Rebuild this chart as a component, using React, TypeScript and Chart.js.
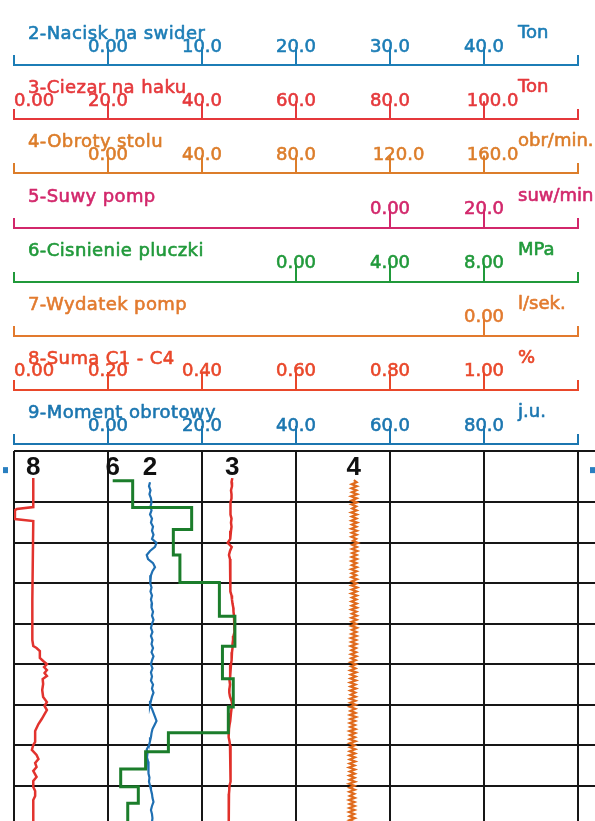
import React, { useEffect, useRef } from 'react';
import { Chart, registerables } from 'chart.js';

Chart.register(...registerables);

// ---------- depth axis (m, grid every 1 m) ----------
const DEPTH_TOP = 0.733;
const DEPTH_BOTTOM = 9.871;
const DEPTH_GRID = [2, 3, 4, 5, 6, 7, 8, 9];

// ---------- header scales (top to bottom) ----------
const HEADER_TITLES = ['2-Nacisk na swider', '3-Ciezar na haku', '4-Obroty stolu', '5-Suwy pomp', '6-Cisnienie pluczki', '7-Wydatek pomp', '8-Suma C1 - C4', '9-Moment obrotowy'];
const HEADER_UNITS = ['Ton', 'Ton', 'obr/min.', 'suw/min', 'MPa', 'l/sek.', '%', 'j.u.'];
const HEADER_MIN = [-10, 0, -40, -80, -12, -5, 0, -20];
const HEADER_MAX = [50, 120, 200, 40, 12, 1, 1.2, 100];
const HEADER_STEP = [10, 20, 40, 20, 4, 1, 0.2, 20];
const HEADER_TICKS = [
  [0, 10, 20, 30, 40],
  [0, 20, 40, 60, 80, 100],
  [0, 40, 80, 120, 160],
  [0, 20],
  [0, 4, 8],
  [0],
  [0, 0.2, 0.4, 0.6, 0.8, 1.0],
  [0, 20, 40, 60, 80],
];
const HEADER_IDS = ['xNacisk', 'xCiezar', 'xObroty', 'xSuwy', 'xCisnienie', 'xWydatek', 'xSuma', 'xMoment'];
const HEADER_COLORS = ['#1c7db6', '#e5383b', '#dc7d2a', '#d2276b', '#20993a', '#e27a2e', '#e9472a', '#1b76b0'];

// ---------- traces ----------
const LOG_DEPTH = [
  1.4, 1.5, 1.6, 1.7, 1.8, 1.9,
  2, 2.1, 2.2, 2.3, 2.4, 2.5, 2.6, 2.7, 2.8, 2.9,
  3, 3.1, 3.2, 3.3, 3.4, 3.5, 3.6, 3.7, 3.8, 3.9,
  4, 4.1, 4.2, 4.3, 4.4, 4.5, 4.6, 4.7, 4.8, 4.9,
  5, 5.1, 5.2, 5.3, 5.4, 5.5, 5.6, 5.7, 5.8, 5.9,
  6, 6.1, 6.2, 6.3, 6.4, 6.5, 6.6, 6.7, 6.8, 6.9,
  7, 7.1, 7.2, 7.3, 7.4, 7.5, 7.6, 7.7, 7.8, 7.9,
  8, 8.1, 8.2, 8.3, 8.4, 8.5, 8.6, 8.7, 8.8, 8.9,
  9, 9.1, 9.2, 9.3, 9.4, 9.5, 9.6, 9.7, 9.8, 9.9,
];
// 2 - Nacisk na swider [Ton]
const NACISK = [
  null, 4.47, 4.36, 4.52, 4.41, 4.57,
  4.63, 4.52, 4.63, 4.47, 4.68, 4.57, 4.79, 4.68, 4.84, 4.68,
  5.16, 5.0, 4.47, 4.12, 4.26, 4.79, 5.0, 4.73, 4.57, 4.52,
  4.47, 4.63, 4.52, 4.68, 4.57, 4.68, 4.63, 4.79, 4.68, 4.84,
  4.68, 4.57, 4.73, 4.57, 4.73, 4.63, 4.79, 4.63, 4.84, 4.68,
  4.57, 4.73, 4.57, 4.68, 4.57, 4.79, 4.68, 4.84, 4.68, 4.57,
  4.47, 4.68, 4.84, 5.0, 5.16, 4.95, 4.73, 4.63, 4.57, 4.47,
  4.36, 4.12, 4.2, 4.15, 4.26, 4.31, 4.26, 4.36, 4.41, 4.36,
  4.47, 4.57, 4.68, 4.73, 4.84, 4.68, 4.57, 4.68, 4.73, 4.68,
];
// 3 - Ciezar na haku [Ton]
const CIEZAR = [
  46.45, 46.28, 46.38, 46.17, 46.28, 46.28,
  46.06, 45.96, 46.06, 46.17, 46.28, 46.17, 46.28, 46.17, 46.06, 45.96,
  45.47, 46.32, 45.96, 45.74, 45.96, 46.06, 45.96, 46.06, 45.96, 46.06,
  45.96, 46.06, 46.17, 46.28, 46.38, 46.49, 46.66, 46.7, 46.81, 46.91,
  47.02, 46.91, 46.81, 46.7, 46.6, 46.49, 46.49, 46.38, 46.32, 46.28,
  46.17, 46.06, 45.96, 45.96, 45.85, 45.96, 45.85, 45.81, 45.96, 46.28,
  46.45, 46.28, 46.17, 46.06, 45.96, 45.85, 45.74, 45.6, 45.74, 45.85,
  45.96, 46.06, 46.17, 46.17, 46.06, 46.17, 46.06, 46.06, 45.96, 45.96,
  45.85, 45.81, 45.74, 45.64, 45.6, 45.64, 45.74, 45.74, 45.74, 45.74,
];

// 4 - Obroty stolu [obr/min], fine sampling
const FINE_DEPTH = [
  1.45, 1.5, 1.55, 1.6, 1.65, 1.7, 1.75, 1.8, 1.85, 1.9,
  1.95, 2, 2.05, 2.1, 2.15, 2.2, 2.25, 2.3, 2.35, 2.4,
  2.45, 2.5, 2.55, 2.6, 2.65, 2.7, 2.75, 2.8, 2.85, 2.9,
  2.95, 3, 3.05, 3.1, 3.15, 3.2, 3.25, 3.3, 3.35, 3.4,
  3.45, 3.5, 3.55, 3.6, 3.65, 3.7, 3.75, 3.8, 3.85, 3.9,
  3.95, 4, 4.05, 4.1, 4.15, 4.2, 4.25, 4.3, 4.35, 4.4,
  4.45, 4.5, 4.55, 4.6, 4.65, 4.7, 4.75, 4.8, 4.85, 4.9,
  4.95, 5, 5.05, 5.1, 5.15, 5.2, 5.25, 5.3, 5.35, 5.4,
  5.45, 5.5, 5.55, 5.6, 5.65, 5.7, 5.75, 5.8, 5.85, 5.9,
  5.95, 6, 6.05, 6.1, 6.15, 6.2, 6.25, 6.3, 6.35, 6.4,
  6.45, 6.5, 6.55, 6.6, 6.65, 6.7, 6.75, 6.8, 6.85, 6.9,
  6.95, 7, 7.05, 7.1, 7.15, 7.2, 7.25, 7.3, 7.35, 7.4,
  7.45, 7.5, 7.55, 7.6, 7.65, 7.7, 7.75, 7.8, 7.85, 7.9,
  7.95, 8, 8.05, 8.1, 8.15, 8.2, 8.25, 8.3, 8.35, 8.4,
  8.45, 8.5, 8.55, 8.6, 8.65, 8.7, 8.75, 8.8, 8.85, 8.9,
  8.95, 9, 9.05, 9.1, 9.15, 9.2, 9.25, 9.3, 9.35, 9.4,
  9.45, 9.5, 9.55, 9.6, 9.65, 9.7, 9.75, 9.8, 9.85, 9.9,
];
const OBROTY = [
  104.6, 105.8, 103.7, 105.9, 103.6, 105.7, 103.8, 106.0, 103.5, 105.8,
  103.7, 105.9, 103.6, 105.6, 103.9, 105.8, 103.5, 105.9, 103.7, 105.7,
  103.6, 106.0, 103.8, 105.7, 103.5, 105.9, 103.7, 105.8, 103.6, 105.6,
  104.2, 106.3, 104.0, 105.9, 103.8, 106.1, 103.9, 105.8, 103.7, 105.9,
  103.6, 105.7, 103.8, 105.9, 103.5, 105.8, 103.7, 105.6, 103.6, 105.9,
  103.8, 105.7, 103.6, 106.0, 103.7, 105.8, 103.5, 105.9, 103.8, 105.7,
  103.6, 105.8, 103.7, 105.9, 103.5, 105.7, 103.8, 105.9, 103.6, 105.8,
  103.7, 105.6, 103.5, 105.9, 103.8, 105.7, 103.6, 105.8, 103.4, 105.6,
  103.5, 105.7, 103.3, 105.5, 103.6, 105.6, 103.4, 105.7, 103.5, 105.4,
  103.2, 105.5, 103.4, 105.3, 103.1, 105.6, 103.3, 105.4, 103.2, 105.5,
  103.0, 105.3, 103.2, 105.5, 103.1, 105.2, 103.3, 105.4, 103.0, 105.3,
  103.1, 105.4, 102.9, 105.2, 103.2, 105.3, 103.0, 105.5, 103.1, 105.2,
  102.9, 105.1, 103.1, 105.3, 102.8, 105.2, 103.0, 105.1, 102.9, 105.3,
  102.8, 105.0, 103.0, 105.2, 102.9, 105.1, 102.7, 105.0, 102.9, 105.2,
  102.8, 104.9, 102.6, 105.1, 102.9, 105.0, 102.7, 104.9, 102.8, 105.1,
  102.6, 104.9, 102.8, 105.0, 102.7, 104.8, 102.9, 105.0, 102.6, 104.9,
  102.8, 105.0, 102.7, 104.9, 102.6, 104.8, 102.8, 105.0, 102.7, 104.9,
];

// 6 - Cisnienie pluczki [MPa] (plotted on the wrapped back-up range 12-36), stepwise
const CIS_DEPTH = [1.467, 1.467, 2.123, 2.667, 3.302, 3.98, 4.813, 5.556, 6.359, 7.056, 7.69, 8.16, 8.587, 9.024, 9.434, 9.95];
const CISNIENIE = [16.2, 17.05, 19.56, 18.78, 19.06, 20.74, 21.4, 20.87, 21.33, 21.12, 18.57, 17.6, 16.54, 17.29, 16.84, 16.84];

// 8 - Suma C1 - C4 [%]
const SUMA_DEPTH = [1.4, 2.116, 2.165, 2.19, 2.412, 2.462, 4.413, 5.401, 5.549, 5.598, 5.672, 5.845, 5.919, 5.993, 6.067, 6.141, 6.215, 6.289, 6.363, 6.487, 6.635, 6.808, 6.931, 7.03, 7.129, 7.228, 7.351, 7.475, 7.573, 7.647, 7.919, 7.993, 8.116, 8.24, 8.339, 8.438, 8.536, 8.635, 8.783, 8.882, 9.03, 9.129, 9.252, 9.351, 9.95];
const SUMA = [0.041, 0.041, 0.006, 0.002, 0.002, 0.041, 0.039, 0.039, 0.041, 0.048, 0.055, 0.055, 0.062, 0.07, 0.064, 0.07, 0.065, 0.07, 0.061, 0.062, 0.06, 0.062, 0.07, 0.065, 0.07, 0.065, 0.059, 0.052, 0.048, 0.045, 0.045, 0.041, 0.038, 0.048, 0.052, 0.045, 0.048, 0.041, 0.048, 0.041, 0.041, 0.045, 0.045, 0.041, 0.041];

const GRID_COLOR = '#161616';
const HEADER_H = 54.14;
const TEXT_FONT = '"DejaVu Sans"';

const near = (a: number, b: number) => Math.abs(a - b) < 1e-6;
const fmt = (v: number) => (Math.abs(v) < 10 ? v.toFixed(2) : v.toFixed(1));

function headerScale(i: number): any {
  const color = HEADER_COLORS[i];
  const labelled = HEADER_TICKS[i];
  const min = HEADER_MIN[i];
  const max = HEADER_MAX[i];
  const hasLabel = (v: number) => labelled.some((t) => near(t, v));
  const atEdge = (v: number) => near(v, min) || near(v, max);
  return {
    type: 'linear',
    position: 'top',
    weight: 8 - i,
    min,
    max,
    afterFit: (s: any) => {
      s.height = HEADER_H;
    },
    grid: {
      display: true,
      drawOnChartArea: false,
      drawTicks: true,
      tickLength: 18,
      lineWidth: 2,
      color: (c: any) => (c.tick && hasLabel(c.tick.value) && !atEdge(c.tick.value) ? color : 'rgba(0,0,0,0)'),
    },
    border: { display: true, color, width: 2 },
    ticks: {
      stepSize: HEADER_STEP[i],
      autoSkip: false,
      maxRotation: 0,
      minRotation: 0,
      padding: -10.6,
      align: labelled.some((t) => near(t, min)) ? 'inner' : 'center',
      color,
      textStrokeColor: color,
      textStrokeWidth: 0.6,
      font: { family: 'DejaVu Sans', size: 18 },
      callback: (v: any) => {
        const n = Number(v);
        if (!hasLabel(n)) return '';
        const s = fmt(n);
        return s.length >= 5 ? '   ' + s : s;
      },
    },
  };
}

const decorPlugin = {
  id: 'logDecor',
  afterDraw(chart: any) {
    const { ctx, chartArea } = chart;
    ctx.save();
    HEADER_IDS.forEach((id, i) => {
      const s = chart.scales[id];
      const yLine = Math.round(s.bottom - 1) + 1;
      const color = HEADER_COLORS[i];
      ctx.strokeStyle = color;
      ctx.lineWidth = 2;
      ctx.beginPath();
      ctx.moveTo(Math.round(s.left), yLine);
      ctx.lineTo(Math.round(s.left), yLine - 10);
      ctx.moveTo(Math.round(s.right), yLine);
      ctx.lineTo(Math.round(s.right), yLine - 10);
      ctx.stroke();
      ctx.fillStyle = color;
      ctx.font = '18px ' + TEXT_FONT;
      ctx.textAlign = 'left';
      ctx.textBaseline = 'alphabetic';
      ctx.lineWidth = 0.6;
      ctx.lineJoin = 'round';
      (ctx as any).letterSpacing = '0.4px';
      ctx.strokeText(HEADER_TITLES[i], s.left + 14, yLine - 26);
      ctx.fillText(HEADER_TITLES[i], s.left + 14, yLine - 26);
      (ctx as any).letterSpacing = '0px';
      ctx.strokeText(HEADER_UNITS[i], s.right - 60, yLine - 27);
      ctx.fillText(HEADER_UNITS[i], s.right - 60, yLine - 27);
    });
    // track numbers above each curve
    ctx.fillStyle = '#111';
    ctx.font = 'bold 26px "Liberation Sans"';
    ctx.textAlign = 'center';
    ctx.textBaseline = 'alphabetic';
    chart.data.datasets.forEach((ds: any, i: number) => {
      const meta = chart.getDatasetMeta(i);
      const p = meta.data.find((el: any) => !el.skip);
      if (p) ctx.fillText(ds.track, p.x, chartArea.top + 24);
    });
    // depth markers at both edges
    ctx.fillStyle = '#2a7fc0';
    ctx.fillRect(3, chartArea.top + 16, 5, 6);
    ctx.fillRect(590, chartArea.top + 16, 5, 6);
    ctx.restore();
  },
};

export default function App() {
  const ref = useRef<HTMLCanvasElement>(null);
  useEffect(() => {
    document.body.style.margin = '0';
    const scales: any = {};
    HEADER_IDS.forEach((id, i) => {
      scales[id] = headerScale(i);
    });
    scales.xCisWrap = { type: 'linear', display: false, position: 'top', min: 12, max: 36 };
    scales.xGrid = {
      type: 'linear',
      position: 'top',
      weight: 0,
      min: 0,
      max: 6,
      afterFit: (s: any) => {
        s.height = 7;
      },
      ticks: { display: false, stepSize: 1 },
      grid: { drawTicks: false, color: GRID_COLOR, lineWidth: 2 },
      border: { display: false },
    };
    scales.y = {
      type: 'linear',
      position: 'right',
      reverse: true,
      min: DEPTH_TOP,
      max: DEPTH_BOTTOM,
      afterBuildTicks: (s: any) => {
        s.ticks = [DEPTH_TOP, ...DEPTH_GRID].map((v) => ({ value: v }));
      },
      afterFit: (s: any) => {
        s.width = 17;
      },
      ticks: { display: false },
      grid: { color: GRID_COLOR, lineWidth: 2, drawTicks: true, tickLength: 17 },
      border: { display: false },
    };

    const line = (color: string, width: number) => ({
      showLine: true,
      borderColor: color,
      backgroundColor: color,
      borderWidth: width,
      pointRadius: 0,
      pointHoverRadius: 0,
      tension: 0,
      fill: false,
      yAxisID: 'y',
    });

    const chart = new Chart(ref.current as HTMLCanvasElement, {
      type: 'scatter',
      data: {
        datasets: [
          {
            ...line('#e2332e', 2.5),
            label: '8-Suma C1 - C4',
            track: '8',
            xAxisID: 'xSuma',
            data: SUMA_DEPTH.map((d, i) => ({ x: SUMA[i], y: d })),
          },
          {
            ...line('#1b7d2b', 3),
            label: '6-Cisnienie pluczki',
            track: '6',
            xAxisID: 'xCisWrap',
            stepped: 'after',
            data: CIS_DEPTH.map((d, i) => ({ x: CISNIENIE[i], y: d })),
          },
          {
            ...line('#1f6fb2', 2.2),
            label: '2-Nacisk na swider',
            track: '2',
            xAxisID: 'xNacisk',
            data: LOG_DEPTH.map((d, i) => ({ x: NACISK[i], y: d })),
          },
          {
            ...line('#e0302a', 2.5),
            label: '3-Ciezar na haku',
            track: '3',
            xAxisID: 'xCiezar',
            data: LOG_DEPTH.map((d, i) => ({ x: CIEZAR[i], y: d })),
          },
          {
            ...line('#e06a1c', 2.2),
            label: '4-Obroty stolu',
            track: '4',
            xAxisID: 'xObroty',
            data: FINE_DEPTH.map((d, i) => ({ x: OBROTY[i], y: d })),
          },
        ] as any,
      },
      options: {
        animation: false,
        responsive: false,
        devicePixelRatio: 1,
        layout: { padding: { top: 11, left: 14, right: 0, bottom: 0 }, autoPadding: false },
        plugins: { legend: { display: false }, tooltip: { enabled: false }, title: { display: false } },
        events: [],
        scales,
      } as any,
      plugins: [decorPlugin],
    });
    return () => chart.destroy();
  }, []);

  return (
    <div style={{ position: 'absolute', left: 0, top: 0, width: 595, height: 821, background: '#fff' }}>
      <canvas ref={ref} width={595} height={821} style={{ display: 'block', width: 595, height: 821 }} />
    </div>
  );
}
